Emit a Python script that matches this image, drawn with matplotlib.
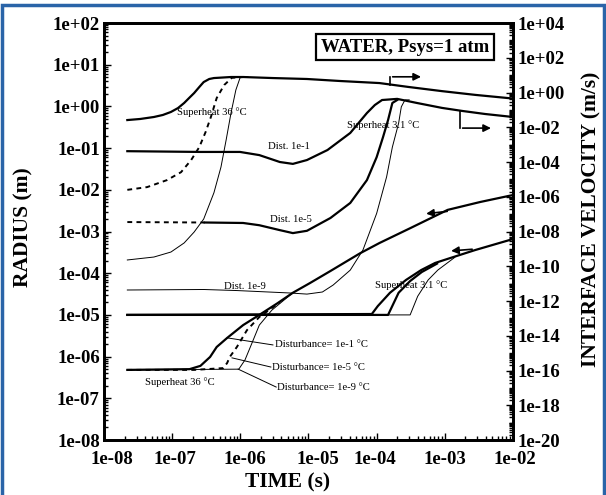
import numpy as np
import matplotlib.pyplot as plt
from matplotlib.ticker import FixedLocator, LogLocator, FuncFormatter, NullFormatter
from matplotlib.patches import Rectangle
from matplotlib.transforms import ScaledTranslation

plt.rcParams['font.family'] = ['Liberation Serif', 'DejaVu Serif']

# --- DATA ---
# interface velocity (m/s), right axis -- superheat 36 C
v36_d1_t = [2.2e-8, 3.4e-8, 5.4e-8, 7.3e-8, 9.6e-8, 1.22e-7, 1.5e-7, 1.77e-7, 2.1e-7,
            2.5e-7, 2.9e-7, 3.5e-7, 4.1e-7, 7.3e-7, 1.1e-6,
            3.0e-6, 9.5e-6, 2.9e-5, 1.1e-4, 2.9e-4, 9.1e-4, 2.8e-3, 1e-2]
v36_d1 = [0.026, 0.030, 0.039, 0.051, 0.076, 0.128, 0.25, 0.48, 0.93,
          2.07, 4.0, 6.0, 6.8, 7.8, 7.8,
          6.8, 6.0, 4.6, 3.5, 2.1, 1.2, 0.73, 0.45]
v36_d5_t = [2.2e-8, 4.3e-8, 8.4e-8, 1.35e-7, 1.9e-7, 2.5e-7, 3.1e-7, 3.7e-7, 4.5e-7,
            5.8e-7, 7.5e-7, 1.1e-6]
v36_d5 = [2.5e-6, 3.6e-6, 9.1e-6, 2.6e-5, 1.3e-4, 7.2e-4, 5.4e-3, 0.039, 0.48,
          2.7, 7.0, 7.8]
v36_d9_t = [2.2e-8, 5.4e-8, 9.6e-8, 1.5e-7, 2.1e-7, 2.9e-7, 4.1e-7, 5.2e-7, 6.2e-7,
            7.3e-7, 8.6e-7, 1.0e-6, 1.3e-6]
v36_d9 = [2.3e-10, 3.4e-10, 6.6e-10, 2.2e-9, 9.3e-9, 5.2e-8, 1.7e-6, 5.1e-5, 1.9e-3,
          0.066, 1.4, 7.8, 7.8]

# interface velocity (m/s), right axis -- superheat 3.1 C
v31_d1_t = [2.2e-8, 2.6e-7, 9.9e-7, 1.9e-6, 3.8e-6, 5.9e-6, 9.5e-6, 1.9e-5, 4.1e-5,
            7.2e-5, 9.4e-5, 1.2e-4, 2.0e-4, 3.9e-4, 9.1e-4, 1.8e-3, 3.9e-3, 1e-2]
v31_d1 = [4.2e-4, 3.8e-4, 3.8e-4, 2.5e-4, 1.0e-4, 7.8e-5, 1.3e-4, 4.9e-4, 4.7e-3,
          0.066, 0.19, 0.37, 0.43, 0.25, 0.13, 0.087, 0.058, 0.039]
v31_d5_t = [2.2e-8, 3.0e-7, 1.1e-6, 1.9e-6, 3.8e-6, 5.9e-6, 9.5e-6, 2.1e-5, 4.1e-5,
            7.2e-5, 1.0e-4, 1.24e-4, 1.47e-4, 1.7e-4, 2.0e-4]
v31_d5 = [3.5e-8, 3.3e-8, 3.1e-8, 2.3e-8, 1.2e-8, 8.1e-9, 1.1e-8, 6.0e-8, 4.4e-7,
          9.1e-6, 1.9e-4, 2.7e-3, 0.026, 0.25, 0.37]
v31_d5_split = 1  # dashed up to this index
v31_d9_t = [2.2e-8, 2.9e-7, 8.9e-7, 5.3e-6, 9.5e-6, 1.6e-5, 2.3e-5, 4.1e-5, 6.3e-5,
            1.0e-4, 1.4e-4, 1.7e-4, 2.1e-4, 2.3e-4, 2.6e-4, 3.0e-4]
v31_d9 = [4.3e-12, 4.6e-12, 4.0e-12, 2.9e-12, 2.5e-12, 3.3e-12, 8.3e-12, 6.0e-11, 8.7e-10,
          1.1e-7, 1.4e-5, 7.2e-4, 0.017, 0.15, 0.37, 0.38]

# bubble radius (m), left axis -- superheat 36 C
r36_d1_t = [2.2e-8, 1.8e-7, 2.6e-7, 3.6e-7, 4.5e-7, 6.4e-7, 1.1e-6, 1.9e-6, 3.5e-6, 5.9e-6,
            1.05e-5, 2.1e-5, 5.7e-5, 1.1e-4, 3.1e-4, 1.1e-3, 3.3e-3, 1e-2]
r36_d1 = [4.8e-7, 5.0e-7, 6.0e-7, 9.8e-7, 1.7e-6, 2.8e-6, 5.7e-6, 1.0e-5, 1.9e-5, 3.4e-5,
          5.8e-5, 1.13e-4, 3.0e-4, 5.3e-4, 1.2e-3, 3.3e-3, 5.1e-3, 7.5e-3]
r36_d5_t = [2.2e-8, 2.1e-7, 5.6e-7, 6.4e-7, 7.0e-7, 8.9e-7, 1.25e-6, 1.9e-6, 3.8e-6]
r36_d5 = [4.8e-7, 4.8e-7, 5.3e-7, 7.0e-7, 9.8e-7, 1.7e-6, 4.3e-6, 8.9e-6, 2.0e-5]
r36_d9_t = [2.2e-8, 9.5e-7, 1.17e-6, 1.48e-6, 1.9e-6, 2.9e-6, 5.9e-6]
r36_d9 = [4.8e-7, 5.0e-7, 8.3e-7, 2.1e-6, 5.7e-6, 1.3e-5, 3.4e-5]

# bubble radius (m), left axis -- superheat 3.1 C
r31_d1_t = [2.2e-8, 8.5e-5, 1.04e-4, 1.57e-4, 2.7e-4, 4.5e-4, 7.2e-4, 1.19e-3, 2.8e-3, 1e-2]
r31_d1 = [1.0e-5, 1.05e-5, 1.63e-5, 3.4e-5, 6.9e-5, 1.19e-4, 1.76e-4, 2.3e-4, 3.6e-4, 6.6e-4]
r31_d5_t = [2.2e-8, 1.47e-4, 2.1e-4, 3.1e-4, 4.6e-4, 7.7e-4]
r31_d5 = [1.0e-5, 1.0e-5, 3.4e-5, 6.5e-5, 1.07e-4, 1.7e-4]
r31_d9_t = [2.2e-8, 3.1e-4, 4.0e-4, 5.7e-4, 7.9e-4, 1.4e-3]
r31_d9 = [1.0e-5, 1.0e-5, 2.8e-5, 6.9e-5, 1.19e-4, 2.4e-4]

# --- PLOT ---
fig = plt.figure(figsize=(6.06, 4.95), dpi=100)
ax = fig.add_axes([0.1716, 0.1111, 0.6749, 0.8424])
ax2 = ax.twinx()

thick = dict(color='k', lw=1.6)
thin = dict(color='k', lw=0.7)
dash = dict(color='k', lw=1.4, ls=(0, (2.5, 2.2)))

ax.plot(r36_d1_t, r36_d1, **thick)
ax.plot(r36_d5_t, r36_d5, **dash)
ax.plot(r36_d9_t, r36_d9, **thin)
ax.plot(r31_d1_t, r31_d1, **thick)
ax.plot(r31_d5_t, r31_d5, **thick)
ax.plot(r31_d9_t, r31_d9, **thin)

ax2.plot(v36_d1_t, v36_d1, **thick)
ax2.plot(v36_d5_t, v36_d5, **dash)
ax2.plot(v36_d9_t, v36_d9, **thin)
ax2.plot(v31_d1_t, v31_d1, **thick)
ax2.plot(v31_d5_t[:v31_d5_split + 1], v31_d5[:v31_d5_split + 1], **dash)
ax2.plot(v31_d5_t[v31_d5_split:], v31_d5[v31_d5_split:], **thick)
ax2.plot(v31_d9_t, v31_d9, **thin)

# --- AXES FORMATTING ---
def fmt(v, pos):
    e = int(round(np.log10(v)))
    return f"1e{e:+03d}"

tickfont = dict(family='Liberation Serif', weight='bold', size=13.5)

ax.set_xscale('log')
ax.set_yscale('log')
ax2.set_yscale('log')
ax.set_xlim(1e-8, 1e-2)
ax.set_ylim(1e-8, 1e2)
ax2.set_ylim(1e-20, 1e4)

ax.xaxis.set_major_locator(FixedLocator([10.0**k for k in range(-8, -1)]))
ax.xaxis.set_minor_locator(LogLocator(base=10, subs=np.arange(2, 10), numticks=100))
ax.yaxis.set_major_locator(FixedLocator([10.0**k for k in range(-8, 3)]))
ax.yaxis.set_minor_locator(LogLocator(base=10, subs=np.arange(2, 10), numticks=100))
ax2.yaxis.set_major_locator(FixedLocator([10.0**k for k in range(-20, 5, 2)]))
ax2.yaxis.set_minor_locator(LogLocator(base=10, subs=np.arange(1, 10), numticks=1000))
for a in (ax.xaxis, ax.yaxis, ax2.yaxis):
    a.set_major_formatter(FuncFormatter(fmt))
    a.set_minor_formatter(NullFormatter())

ax.tick_params(which='both', direction='in', top=False, right=False, width=1)
ax.tick_params(which='major', length=5)
ax.tick_params(which='minor', length=3)
ax.tick_params(axis='x', pad=8)
ax.tick_params(axis='y', pad=3)
ax2.tick_params(which='both', direction='in', width=1, pad=3)
ax2.tick_params(which='major', length=5)
ax2.tick_params(which='minor', length=3)
for lab in ax.get_xticklabels() + ax.get_yticklabels() + ax2.get_yticklabels():
    lab.set_fontproperties(tickfont)
    lab.set_fontsize(13.5)
for a in (ax, ax2):
    for s in a.spines.values():
        s.set_linewidth(2.0)

# the scanned original has its time labels placed a little unevenly
x_label_shift = [8, 3, 5, 9, -2, 0, 2]
for lab, dx in zip(ax.get_xticklabels(), x_label_shift):
    lab.set_transform(lab.get_transform() + ScaledTranslation(dx / 100, 0, fig.dpi_scale_trans))

labfont = dict(family='Liberation Serif', weight='bold', size=15.5)
fig.text(288 / 606, 1 - 482 / 495, "TIME (s)", ha='center', va='center', **labfont)
fig.text(23 / 606, 1 - 227 / 495, "RADIUS (m)", ha='center', va='center', rotation=90, **labfont)
fig.text(591 / 606, 1 - 219 / 495, "INTERFACE VELOCITY (m/s)", ha='center', va='center',
         rotation=90, **labfont)

# --- ANNOTATIONS ---
ax.text(0.736, 0.942, "WATER, Psys=1 atm", transform=ax.transAxes, ha='center', va='center',
        family='Liberation Serif', weight='bold', size=13.5,
        bbox=dict(boxstyle='square,pad=0.25', fc='white', ec='k', lw=1.6))

small = dict(transform=ax.transAxes, ha='left', va='center', size=7.7, family='Liberation Serif')
ax.text(0.178, 0.787, "Superheat 36 °C", **small)
ax.text(0.401, 0.703, "Dist. 1e-1", **small)
ax.text(0.406, 0.530, "Dist. 1e-5", **small)
ax.text(0.594, 0.755, "Superheat 3.1 °C", **small)
ax.text(0.293, 0.369, "Dist. 1e-9", **small)
ax.text(0.663, 0.372, "Superheat 3.1 °C", **small)
ax.text(0.100, 0.139, "Superheat 36 °C", **small)
ax.text(0.418, 0.228, "Disturbance= 1e-1 °C", **small)
ax.text(0.411, 0.175, "Disturbance= 1e-5 °C", **small)
ax.text(0.423, 0.125, "Disturbance= 1e-9 °C", **small)

# leader lines
ax.plot([0.301, 0.413], [0.245, 0.228], transform=ax.transAxes, color='k', lw=0.7)
ax.plot([0.313, 0.408], [0.197, 0.175], transform=ax.transAxes, color='k', lw=0.7)
ax.plot([0.328, 0.421], [0.170, 0.127], transform=ax.transAxes, color='k', lw=0.7)

# axis arrows
arr = dict(arrowstyle='-|>', lw=1.2, color='k', mutation_scale=11)
ax.plot([0.699, 0.699], [0.851, 0.871], transform=ax.transAxes, color='k', lw=1.2)
ax.annotate('', xy=(0.782, 0.871), xytext=(0.699, 0.871), xycoords='axes fraction', arrowprops=arr)
ax.plot([0.870, 0.870], [0.789, 0.748], transform=ax.transAxes, color='k', lw=1.2)
ax.annotate('', xy=(0.953, 0.748), xytext=(0.870, 0.748), xycoords='axes fraction', arrowprops=arr)
ax.annotate('', xy=(0.781, 0.542), xytext=(0.846, 0.549), xycoords='axes fraction', arrowprops=arr)
ax.annotate('', xy=(0.842, 0.453), xytext=(0.907, 0.458), xycoords='axes fraction', arrowprops=arr)

# blue frame of the scanned figure
fig.patches.append(Rectangle((2 / 606, -0.02), 602 / 606, 1.02 - 5.5 / 495,
                             transform=fig.transFigure, fill=False, ec='#2a64a8', lw=2.5))

plt.savefig('out.png', dpi=100)
